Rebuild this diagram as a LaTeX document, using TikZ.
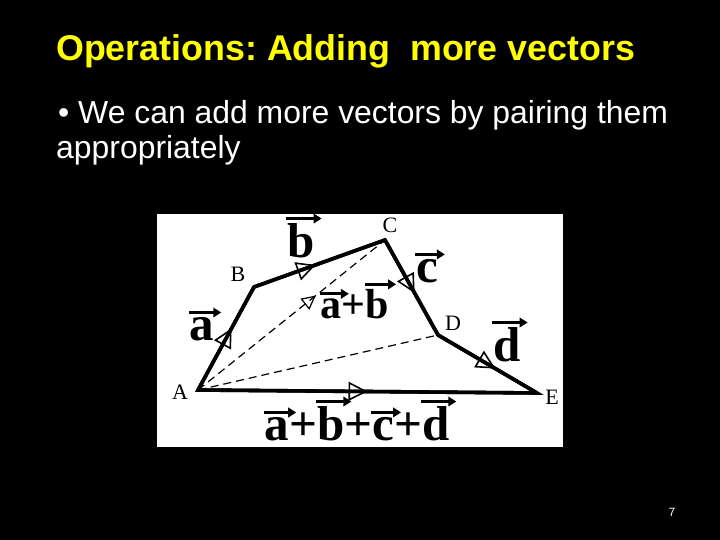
\documentclass[tikz,border=0pt]{standalone}
\usepackage{fontspec}
\setmainfont{Liberation Sans}
\newfontfamily\seriffont{Liberation Serif}
\usetikzlibrary{arrows.meta,decorations.markings}
\frenchspacing
\definecolor{titleyellow}{RGB}{255,255,0}
\newcommand\vv[1]{\tikz[baseline=(v.base)]{\node[inner sep=0pt,outer sep=0pt,anchor=base,shape=rectangle,draw=none,fill=none,text=black](v) at (0,0){#1};\draw[overlay,black,line width=2.8pt,-{Triangle[length=8pt,width=9.5pt]}] ([xshift=-1pt,yshift=4.5pt]v.north west) -- ([xshift=7pt,yshift=4.5pt]v.north east);}}
\tikzset{
  midarrow/.style={postaction={decorate,decoration={markings,mark=at position #1 with {\arrow{Triangle[open,length=19pt,width=19pt,line width=1.6pt]}}}}},
  smallarrow/.style={postaction={decorate,decoration={markings,mark=at position #1 with {\arrow{Triangle[open,length=14pt,width=14pt,line width=1.2pt]}}}}},
  poly/.style={draw=black,line width=3.6pt,line join=miter},
  seg/.style={draw=black,line width=3.6pt,line cap=round},
  dash line/.style={draw=black,line width=1.2pt,dash pattern=on 8pt off 5pt},
  ptlabel/.style={font=\seriffont\fontsize{22}{24}\selectfont,inner sep=0pt,text=black},
  veclabel/.style={font=\seriffont\bfseries\fontsize{49}{50}\selectfont,inner sep=0pt,anchor=base,text=black},
  vecsmall/.style={font=\seriffont\bfseries\fontsize{42}{44}\selectfont,inner sep=0pt,anchor=base,text=black},
}
\begin{document}
\begin{tikzpicture}[x=1pt,y=-1pt]
\useasboundingbox (0,0) rectangle (720,540);
\fill[black] (0,0) rectangle (720,540);
\node[anchor=base west,inner sep=0pt,text=titleyellow,font=\bfseries\fontsize{35.8}{40}\selectfont] (title) at (56,61) {Operations: Adding \ more vectors};
\node[anchor=base west,inner sep=0pt,text=white,font=\fontsize{31.9}{36}\selectfont] (line1) at (58,124) {\textbullet\ We can add more vectors by pairing them};
\node[anchor=base west,inner sep=0pt,text=white,font=\fontsize{31.9}{36}\selectfont] (line2) at (56,159) {appropriately};
\node[text=white,font=\fontsize{12}{14}\selectfont,inner sep=0pt] (page) at (672,512) {7};
\fill[white] (157,214) rectangle (563,447);
\coordinate (A) at (198,390);
\coordinate (B) at (254,287);
\coordinate (C) at (385,240);
\coordinate (D) at (438,335);
\coordinate (E) at (537,393);
\draw[dash line] (A) -- (D);
\draw[dash line,smallarrow=0.63] (A) -- (C);
\draw[poly] (A) -- (B) -- (C) -- (D) -- (E) -- cycle;
\draw[seg,midarrow=0.6] (A) -- (B);
\draw[seg,midarrow=0.47] (B) -- (C);
\draw[seg,midarrow=0.56] (C) -- (D);
\draw[seg,midarrow=0.58] (D) -- (E);
\draw[seg,midarrow=0.5] (A) -- (E);
\node[ptlabel] (lA) at (180,392) {A};
\node[ptlabel] (lB) at (238,274) {B};
\node[ptlabel] (lC) at (390,225) {C};
\node[ptlabel] (lD) at (453,323) {D};
\node[ptlabel] (lE) at (552,397) {E};
\node[veclabel] (va) at (202,340) {\vv{a}};
\node[veclabel] (vb) at (301,257) {\vv{b}};
\node[veclabel] (vc) at (427,282) {\vv{c}};
\node[veclabel] (vd) at (507,361) {\vv{d}};
\node[vecsmall] (vab) at (355,318) {\vv{a}+\vv{b}};
\node[veclabel] (vsum) at (357,440) {\vv{a}+\vv{b}+\vv{c}+\vv{d}};
\end{tikzpicture}
\end{document}
